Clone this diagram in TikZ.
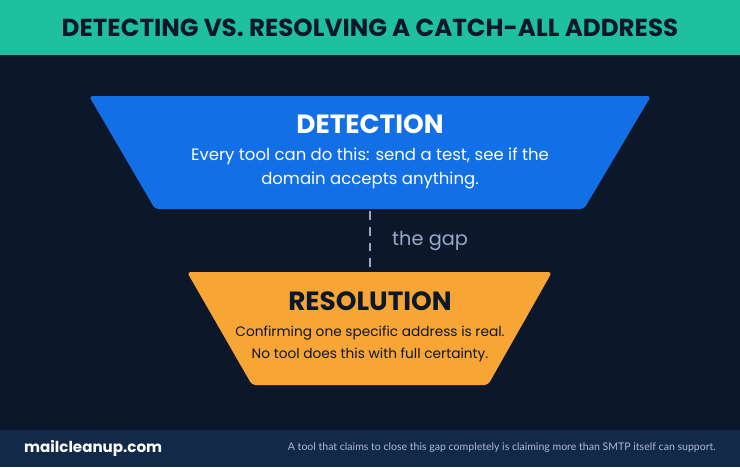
\documentclass[tikz,border=0pt]{standalone}
\usepackage{fontspec}
\setmainfont{Poppins}
\newfontfamily\smallfont{Lato}
\definecolor{bgnavy}{HTML}{0C1729}
\definecolor{bannerteal}{HTML}{1FC09E}
\definecolor{footnavy}{HTML}{13294A}
\definecolor{detblue}{HTML}{136FE6}
\definecolor{resorange}{HTML}{F7A534}
\definecolor{gapgrey}{HTML}{9AA8CC}
\begin{document}
\begin{tikzpicture}[x=0.02cm,y=-0.02cm,%
					title/.style={font=\fontsize{14}{16}\selectfont\bfseries},%
					head/.style={font=\fontsize{15}{18}\selectfont\bfseries},%
					body/.style={font=\fontsize{9.4}{13.6}\selectfont,align=center},%
					stage/.style={rounded corners=2pt}]
\useasboundingbox (0,0) rectangle (740,467);
\fill [bgnavy] (0,0) rectangle (740,467);
\fill [bannerteal] (0,0) rectangle (740,55);
\fill [footnavy] (0,430) rectangle (740,467);

\node [title,text=bgnavy] (heading) at (370,28) {DETECTING VS. RESOLVING A CATCH-ALL ADDRESS};

% the two stages
\fill [stage,detblue] (89,96) -- (651,96) -- (584,209) -- (155,209) -- cycle;
\fill [stage,resorange] (187,272) -- (552,272) -- (488,385) -- (252,385) -- cycle;

\node [head,text=white] (dettitle) at (370,124) {DETECTION};
\node [body,text=white] (dettext) at (370,168) {Every tool can do this: send a test, see if the\\domain accepts anything.};
\node [head,text=bgnavy] (restitle) at (370,301) {RESOLUTION};
\node [body,text=bgnavy,font=\fontsize{7.8}{13}\selectfont] (restext) at (370,344) {Confirming one specific address is real.\\No tool does this with full certainty.};

\coordinate (detbottom) at (370,211);
\coordinate (restop) at (370,271);
\draw [gapgrey,line width=1.2pt,dash pattern=on 5pt off 4pt] (detbottom) -- (restop);
\node [text=gapgrey,font=\fontsize{11}{13}\selectfont,anchor=west] (gap) at (386,241) {the gap};

\node [text=white,font=\fontsize{8.6}{10}\selectfont\bfseries,anchor=west] (site) at (18,448) {mailcleanup.com};
\node [text=gapgrey!80!white,font=\smallfont\fontsize{6}{7}\selectfont,anchor=east] (note) at (722,448) {A tool that claims to close this gap completely is claiming more than SMTP itself can support.};
\end{tikzpicture}
\end{document}
